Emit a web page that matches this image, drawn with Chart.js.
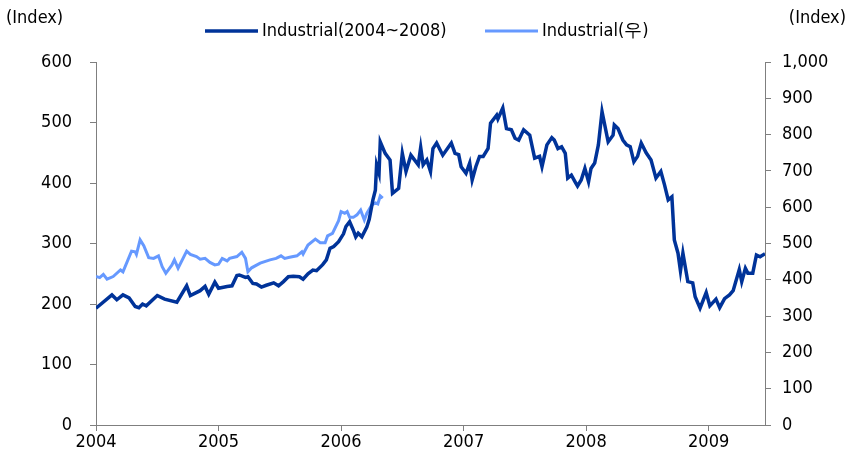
<!DOCTYPE html>
<html>
<head>
<meta charset="utf-8">
<script src="https://cdn.jsdelivr.net/npm/chart.js@4.4.1/dist/chart.umd.min.js"></script>
<style>
  html, body { margin: 0; padding: 0; background: #fff; }
  #wrap { width: 858px; height: 458px; }
</style>
</head>
<body>
<div id="wrap"><canvas id="chart"></canvas></div>
<script>
// ── Data (decimal year, index) ─────────────────────
const darkDates = [
    2004.00, 2004.13, 2004.17, 2004.22, 2004.27, 2004.32, 2004.35, 2004.38, 2004.41, 2004.50,
    2004.56, 2004.66, 2004.74, 2004.77, 2004.85, 2004.89, 2004.92, 2004.97, 2005.00, 2005.07,
    2005.11, 2005.15, 2005.17, 2005.22, 2005.24, 2005.28, 2005.31, 2005.35, 2005.39, 2005.45,
    2005.49, 2005.53, 2005.57, 2005.61, 2005.66, 2005.69, 2005.73, 2005.77, 2005.80, 2005.85,
    2005.88, 2005.91, 2005.94, 2005.98, 2006.02, 2006.04, 2006.07, 2006.10, 2006.12, 2006.14,
    2006.17, 2006.21, 2006.23, 2006.26, 2006.28, 2006.29, 2006.31, 2006.32, 2006.36, 2006.40,
    2006.42, 2006.47, 2006.50, 2006.53, 2006.57, 2006.63, 2006.65, 2006.67, 2006.70, 2006.73,
    2006.75, 2006.78, 2006.83, 2006.90, 2006.93, 2006.96, 2006.98, 2007.02, 2007.05, 2007.07,
    2007.10, 2007.13, 2007.16, 2007.20, 2007.22, 2007.27, 2007.28, 2007.32, 2007.35, 2007.39,
    2007.42, 2007.45, 2007.49, 2007.54, 2007.58, 2007.62, 2007.64, 2007.68, 2007.72, 2007.74,
    2007.77, 2007.80, 2007.83, 2007.85, 2007.88, 2007.91, 2007.93, 2007.96, 2007.99, 2008.02,
    2008.04, 2008.07, 2008.10, 2008.13, 2008.18, 2008.22, 2008.23, 2008.26, 2008.30, 2008.33,
    2008.36, 2008.39, 2008.42, 2008.45, 2008.49, 2008.53, 2008.57, 2008.61, 2008.64, 2008.67,
    2008.70, 2008.72, 2008.75, 2008.77, 2008.79, 2008.83, 2008.87, 2008.89, 2008.93, 2008.98,
    2009.01, 2009.06, 2009.09, 2009.13, 2009.17, 2009.20, 2009.25, 2009.27, 2009.30, 2009.32,
    2009.36, 2009.39, 2009.42, 2009.46
];
const darkValues = [
    193, 215, 207, 215, 210, 196, 194, 200, 197, 214,
    208, 203, 230, 214, 222, 229, 216, 236, 226, 229,
    230, 247, 248, 244, 245, 234, 233, 228, 231, 235,
    230, 237, 245, 246, 245, 241, 250, 256, 255, 265,
    273, 292, 295, 303, 316, 328, 336, 322, 311, 317,
    311, 327, 340, 372, 388, 430, 416, 468, 449, 438,
    383, 391, 449, 419, 446, 430, 459, 430, 438, 419,
    457, 466, 446, 466, 449, 447, 427, 416, 433, 405,
    427, 444, 444, 457, 499, 512, 506, 524, 490, 488,
    474, 471, 488, 479, 441, 444, 427, 463, 475, 471,
    457, 460, 449, 408, 413, 402, 395, 405, 424, 402,
    424, 433, 463, 518, 468, 479, 496, 490, 471, 463,
    460, 435, 444, 466, 450, 438, 408, 419, 397, 372,
    377, 306, 284, 255, 284, 237, 235, 212, 193, 219,
    197, 208, 194, 209, 215, 222, 257, 237, 259, 251,
    251, 281, 278, 283
];
const lightDates = [
    2004.00, 2004.03, 2004.06, 2004.09, 2004.14, 2004.20, 2004.22, 2004.29, 2004.32, 2004.33,
    2004.36, 2004.39, 2004.43, 2004.47, 2004.51, 2004.54, 2004.57, 2004.62, 2004.64, 2004.67,
    2004.74, 2004.77, 2004.82, 2004.85, 2004.89, 2004.93, 2004.97, 2005.00, 2005.03, 2005.07,
    2005.09, 2005.15, 2005.19, 2005.22, 2005.24, 2005.27, 2005.34, 2005.42, 2005.47, 2005.51,
    2005.54, 2005.58, 2005.64, 2005.68, 2005.69, 2005.73, 2005.79, 2005.83, 2005.87, 2005.89,
    2005.93, 2005.98, 2006.00, 2006.03, 2006.05, 2006.07, 2006.10, 2006.13, 2006.16, 2006.19,
    2006.21, 2006.25, 2006.28, 2006.30, 2006.32, 2006.34
];
const lightValues = [
    409, 406, 415, 402, 409, 427, 422, 479, 477, 470,
    510, 494, 461, 459, 466, 436, 418, 441, 455, 432,
    479, 470, 464, 457, 459, 448, 441, 443, 459, 452,
    459, 464, 476, 459, 422, 433, 446, 455, 459, 466,
    459, 462, 466, 477, 471, 496, 512, 502, 502, 521,
    528, 563, 588, 583, 588, 572, 572, 579, 592, 565,
    583, 606, 612, 609, 631, 625
];
const yearTicks = [2004, 2005, 2006, 2007, 2008, 2009];
const seriesNames = ['Industrial(2004~2008)', 'Industrial(우)'];
const axisUnit = '(Index)';

// ── Style ─────────────────────────────────────────
const FONT = "'DejaVu Sans Condensed', 'Liberation Sans', sans-serif";
const DARK = '#003399';
const LIGHT = '#6699ff';
const AXIS = '#7f7f7f';

Chart.defaults.font.family = FONT;
Chart.defaults.font.size = 18;
Chart.defaults.color = '#000';

const toPoints = (xs, ys) => xs.map((x, i) => ({ x, y: ys[i] }));

// header: unit labels + legend
const headerPlugin = {
    id: 'header',
    afterDraw(chart) {
        const ctx = chart.ctx;
        ctx.save();
        ctx.font = `18px ${FONT}`;
        ctx.fillStyle = '#000';
        ctx.textBaseline = 'middle';
        ctx.textAlign = 'left';
        ctx.fillText(axisUnit, 6, 18);
        ctx.textAlign = 'right';
        ctx.fillText(axisUnit, 846, 18);

        ctx.textAlign = 'left';
        const items = [
            { x: 205, color: DARK, width: 3.5, text: seriesNames[0] },
            { x: 485, color: LIGHT, width: 3, text: seriesNames[1] },
        ];
        items.forEach((it) => {
            ctx.strokeStyle = it.color;
            ctx.lineWidth = it.width;
            ctx.beginPath();
            ctx.moveTo(it.x, 31);
            ctx.lineTo(it.x + 53, 31);
            ctx.stroke();
            ctx.fillText(it.text, it.x + 57, 31);
        });
        ctx.restore();
    },
};

const axisGrid = {
    drawOnChartArea: false,
    drawTicks: true,
    tickLength: 6,
    color: AXIS,
};

new Chart(document.getElementById('chart'), {
    type: 'line',
    data: {
        datasets: [{
            label: seriesNames[0],
            data: toPoints(darkDates, darkValues),
            yAxisID: 'y',
            borderColor: DARK,
            borderWidth: 3.5,
            pointRadius: 0,
            tension: 0,
        }, {
            label: seriesNames[1],
            data: toPoints(lightDates, lightValues),
            yAxisID: 'y1',
            borderColor: LIGHT,
            borderWidth: 3,
            pointRadius: 0,
            tension: 0,
        }],
    },
    options: {
        responsive: true,
        maintainAspectRatio: false,
        animation: false,
        layout: {
            padding: { top: 62, left: 0, right: 0, bottom: 0 },
        },
        plugins: {
            legend: { display: false },
            tooltip: { enabled: false },
        },
        scales: {
            x: {
                type: 'linear',
                min: 2004,
                max: 2009.46,
                grid: axisGrid,
                border: { color: AXIS, width: 1 },
                afterBuildTicks: (s) => { s.ticks = yearTicks.map((value) => ({ value })); },
                afterFit: (s) => { s.height = 33; },
                ticks: {
                    padding: 1,
                    maxRotation: 0,
                    autoSkip: false,
                    callback: (v) => String(v),
                },
            },
            y: {
                position: 'left',
                min: 0,
                max: 600,
                grid: axisGrid,
                border: { color: AXIS, width: 1 },
                afterFit: (s) => { s.width = 96; },
                ticks: { stepSize: 100, padding: 18 },
            },
            y1: {
                position: 'right',
                min: 0,
                max: 1000,
                grid: axisGrid,
                border: { color: AXIS, width: 1 },
                afterFit: (s) => { s.width = 93; },
                ticks: { stepSize: 100, padding: 11 },
            },
        },
    },
    plugins: [headerPlugin],
});
</script>
</body>
</html>
